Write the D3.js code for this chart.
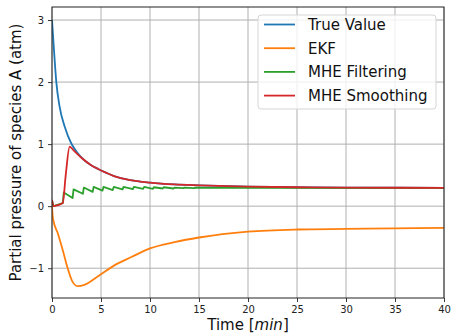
<!DOCTYPE html>
<html>
<head>
<meta charset="utf-8">
<script src="https://cdn.jsdelivr.net/npm/d3@7"></script>
<style>
body { margin: 0; background: #fff; }
text { font-family: "DejaVu Sans", sans-serif; }
</style>
</head>
<body>
<div id="chart"></div>
<script>
// values: [time (min), pressure (atm)]
var trueValue = [[0,3.0],[0.2,2.52],[0.44,2.0],[0.78,1.6],[1.3,1.28],[1.97,1.01],[2.65,0.85],[3.3,0.74],[4.0,0.66],[4.7,0.6],[5.5,0.54],[6.4,0.48],[8.0,0.42],[10,0.38],[12.5,0.35],[15,0.335],[20,0.315],[25,0.305],[30,0.3],[40,0.295]];
var ekf = [[0,0.0],[0.1,-0.2],[0.6,-0.44],[1.1,-0.71],[1.6,-1.0],[2.1,-1.22],[2.65,-1.29],[3.3,-1.27],[4.7,-1.13],[6.4,-0.95],[8.1,-0.82],[10,-0.68],[12.5,-0.58],[15,-0.505],[20,-0.41],[25,-0.376],[30,-0.366],[35,-0.357],[40,-0.35]];
var mheFilter = [[0,0.1],[0.15,0.0],[1.1,0.05],[1.2,0.22],[2.1,0.13],[2.2,0.27],[3.15,0.2],[3.25,0.3],[4.15,0.23],[4.25,0.31],[5.15,0.25],[5.25,0.31],[6.2,0.26],[6.3,0.31],[7.2,0.27],[7.3,0.31],[8.25,0.275],[8.35,0.31],[9.3,0.28],[9.4,0.31],[10.3,0.28],[10.4,0.305],[11.3,0.285],[11.4,0.305],[12.4,0.285],[12.5,0.3],[13.4,0.29],[13.5,0.3],[14.5,0.29],[14.6,0.3],[16,0.295],[20,0.295],[40,0.29]];
var mheSmooth = [[0,0.1],[0.15,0.0],[1.1,0.05],[1.4,0.5],[1.8,0.96],[2.2,0.9],[3.0,0.78],[4.0,0.66],[4.7,0.6],[5.5,0.54],[6.4,0.48],[8.0,0.42],[10,0.38],[12.5,0.35],[15,0.335],[20,0.315],[25,0.305],[30,0.3],[40,0.295]];

var seriesNames = ["True Value", "EKF", "MHE Filtering", "MHE Smoothing"];
var colors = ["#1f77b4", "#ff7f0e", "#2ca02c", "#d62728"];
var xTicks = [0, 5, 10, 15, 20, 25, 30, 35, 40];
var yTicks = [-1, 0, 1, 2, 3];

var W = 452, H = 335;
var margin = {top: 7, right: 8, bottom: 37, left: 52},
	w = W - margin.left - margin.right,
	h = H - margin.top - margin.bottom;

var svg = d3.select("#chart")
			.append("svg")
			.attr("width", W)
			.attr("height", H);

var g = svg.append("g")
		   .attr("transform", "translate(" + margin.left + "," + margin.top + ")");

var xScale = d3.scaleLinear().domain([0, 40]).range([0, w]);
var yScale = d3.scaleLinear().domain([-1.48, 3.21]).range([h, 0]);

g.append("defs")
 .append("clipPath")
  .attr("id", "clip")
 .append("rect")
  .attr("width", w)
  .attr("height", h);

// grid
g.append("g")
 .selectAll("line")
 .data(xTicks)
 .enter()
 .append("line")
 .attr("x1", d => xScale(d)).attr("x2", d => xScale(d))
 .attr("y1", 0).attr("y2", h)
 .attr("stroke", "#b0b0b0").attr("stroke-width", 1);

g.append("g")
 .selectAll("line")
 .data(yTicks)
 .enter()
 .append("line")
 .attr("y1", d => yScale(d)).attr("y2", d => yScale(d))
 .attr("x1", 0).attr("x2", w)
 .attr("stroke", "#b0b0b0").attr("stroke-width", 1);

// lines
var line = d3.line()
			 .x(d => xScale(d[0]))
			 .y(d => yScale(d[1]))
			 .curve(d3.curveMonotoneX);
var lineSharp = d3.line()
			 .x(d => xScale(d[0]))
			 .y(d => yScale(d[1]));

var body = g.append("g").attr("clip-path", "url(#clip)");
var allSeries = [trueValue, ekf, mheFilter, mheSmooth];
allSeries.forEach(function(s, i) {
	body.append("path")
		.attr("d", i == 2 ? lineSharp(s) : line(s))
		.attr("fill", "none")
		.attr("stroke", colors[i])
		.attr("stroke-width", 1.8)
		.attr("stroke-linejoin", "round");
});

// axes
var xAxis = d3.axisBottom(xScale).tickValues(xTicks).tickSize(4).tickPadding(4);
var yAxis = d3.axisLeft(yScale).tickValues(yTicks).tickSize(4).tickPadding(4)
			  .tickFormat(d => d < 0 ? "\u2212" + Math.abs(d) : d);

var gX = g.append("g").attr("transform", "translate(0," + h + ")").call(xAxis);
var gY = g.append("g").call(yAxis);
[gX, gY].forEach(function(a) {
	a.select(".domain").remove();
	a.selectAll(".tick line").attr("stroke", "#222").attr("stroke-width", 0.9);
	a.selectAll(".tick text").attr("font-size", 10).attr("fill", "#222")
	 .style("font-family", "DejaVu Sans");
});

// frame
g.append("rect")
 .attr("width", w).attr("height", h)
 .attr("fill", "none")
 .attr("stroke", "#222")
 .attr("stroke-width", 1);

// axis labels
svg.append("text")
   .attr("x", margin.left + w / 2)
   .attr("y", 330)
   .attr("text-anchor", "middle")
   .attr("font-size", 15)
   .attr("fill", "#111")
   .html('Time [<tspan font-style="italic">min</tspan>]');

svg.append("text")
   .attr("transform", "translate(21," + (margin.top + h / 2) + ") rotate(-90)")
   .attr("text-anchor", "middle")
   .attr("font-size", 15)
   .attr("fill", "#111")
   .text("Partial pressure of species A (atm)");

// legend
var lg = svg.append("g").attr("transform", "translate(258,15)");
lg.append("rect")
  .attr("width", 178).attr("height", 94)
  .attr("rx", 3)
  .attr("fill", "rgba(255,255,255,0.8)")
  .attr("stroke", "#d5d5d5");

seriesNames.forEach(function(name, i) {
	var yy = 9.5 + i * 23.7;
	lg.append("line")
	  .attr("x1", 6).attr("x2", 37)
	  .attr("y1", yy).attr("y2", yy)
	  .attr("stroke", colors[i]).attr("stroke-width", 1.8);
	lg.append("text")
	  .attr("x", 50).attr("y", yy + 5.5)
	  .attr("font-size", 15)
	  .attr("fill", "#111")
	  .text(name);
});
</script>
</body>
</html>
